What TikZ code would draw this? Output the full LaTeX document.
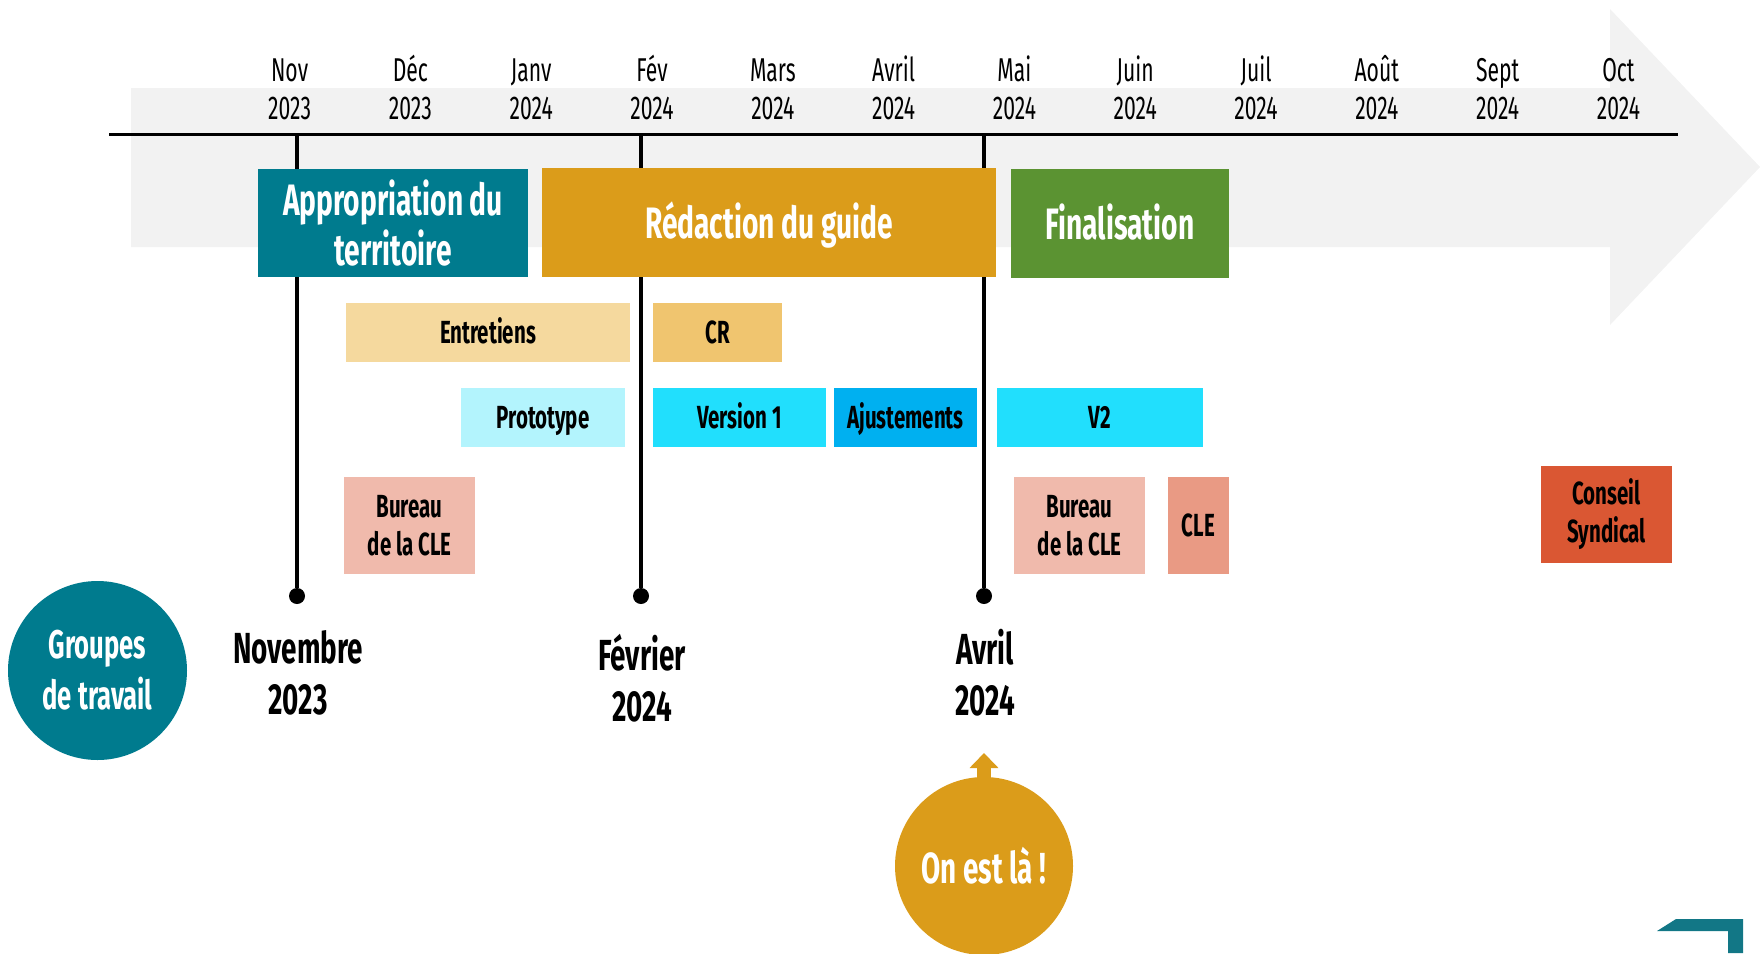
\documentclass[tikz,border=0pt]{standalone}
\usepackage{fontspec}
\setmainfont{Fira Sans}[FakeStretch=0.64]
\usetikzlibrary{arrows.meta}
\definecolor{cFond}{HTML}{F2F2F2}
\definecolor{cTeal}{HTML}{007B8E}
\definecolor{cGold}{HTML}{DB9C1A}
\definecolor{cVert}{HTML}{5B9332}
\definecolor{cEntre}{HTML}{F5D99E}
\definecolor{cCR}{HTML}{F0C56F}
\definecolor{cProto}{HTML}{B3F4FD}
\definecolor{cCyan}{HTML}{21DFFD}
\definecolor{cBleu}{HTML}{00B0F0}
\definecolor{cBureau}{HTML}{F0BAAC}
\definecolor{cCLE}{HTML}{E99A84}
\definecolor{cConseil}{HTML}{DA5733}
\definecolor{cCoin}{HTML}{127786}

\begin{document}
\begin{tikzpicture}[x=1pt, y=-1pt,
  phase/.style={rectangle, inner sep=0pt, align=center, text=white,
    font=\fontsize{44}{50}\selectfont\bfseries},
  task/.style={rectangle, inner sep=0pt, align=center, text=black,
    font=\fontsize{32}{38}\selectfont\bfseries},
  uneligne/.style={text height=26pt, text depth=4pt},
  month/.style={align=center, inner sep=0pt, font=\fontsize{33}{38}\selectfont},
  jalon/.style={align=center, inner sep=0pt, font=\fontsize{43.5}{51}\selectfont\bfseries},
  bulle/.style={circle, inner sep=0pt, align=center, text=white,
    font=\fontsize{40}{51}\selectfont\bfseries}]
\useasboundingbox (0,0) rectangle (1760,953);

% grande fleche de fond
\fill[cFond] (131,88) -- (1610,88) -- (1610,9) -- (1760,167)
  -- (1610,325) -- (1610,247) -- (131,247) -- cycle;

% axe des mois
\coordinate (axeg) at (109,134);
\coordinate (axed) at (1678,134);
\draw[line width=3pt] (axeg) -- (axed);
\foreach \m/\a [count=\i from 0] in {Nov/2023, Déc/2023, Janv/2024, Fév/2024,
    Mars/2024, Avril/2024, Mai/2024, Juin/2024, Juil/2024, Août/2024,
    Sept/2024, Oct/2024} {
  \node[month] (m\i) at (289.6+120.8*\i, 87) {\vphantom{Dé}\m\\\a};
}

% jalons
\foreach \n/\x/\ly/\lab in {nov/297/673/{Novembre\\2023},
    fev/641/678/{Février\\2024}, avr/984/673/{Avril\\2024}} {
  \coordinate (\n top) at (\x,134);
  \node[circle, fill=black, inner sep=0pt, minimum size=16pt] (\n dot) at (\x,596) {};
  \draw[line width=4pt] (\n top) -- (\n dot);
  \node[jalon] (\n lab) at (\x+1,\ly) {\lab};
}

% phases
\node[phase, fill=cTeal, minimum width=270pt, minimum height=108pt]
  (appro) at (393,223) {Appropriation du\\territoire};
\node[phase, fill=cGold, minimum width=454pt, minimum height=109pt,
  text height=36pt, text depth=5pt]
  (redac) at (769,222.5) {Rédaction du guide};
\node[phase, fill=cVert, minimum width=218pt, minimum height=109pt,
  text height=36pt, text depth=5pt]
  (final) at (1120,223.5) {Finalisation};

% taches
\node[task, uneligne, fill=cEntre, minimum width=284pt, minimum height=59pt]
  (entre) at (488,332.5) {Entretiens};
\node[task, uneligne, fill=cCR, minimum width=129pt, minimum height=59pt]
  (cr) at (717.5,332.5) {CR};
\node[task, uneligne, fill=cProto, minimum width=164pt, minimum height=59pt]
  (proto) at (543,417.5) {Prototype};
\node[task, uneligne, fill=cCyan, minimum width=173pt, minimum height=59pt]
  (vun) at (739.5,417.5) {Version 1};
\node[task, uneligne, fill=cBleu, minimum width=143pt, minimum height=59pt]
  (ajust) at (905.5,417.5) {Ajustements};
\node[task, uneligne, fill=cCyan, minimum width=206pt, minimum height=59pt]
  (vdeux) at (1100,417.5) {V2};
\node[task, fill=cBureau, minimum width=131pt, minimum height=97pt]
  (bureauA) at (409.5,525.5) {Bureau\\de la CLE};
\node[task, fill=cBureau, minimum width=131pt, minimum height=97pt]
  (bureauB) at (1079.5,525.5) {Bureau\\de la CLE};
\node[task, uneligne, fill=cCLE, minimum width=61pt, minimum height=97pt]
  (cle) at (1198.5,525.5) {CLE};
\node[task, fill=cConseil, minimum width=131pt, minimum height=97pt]
  (conseil) at (1606.5,514.5) {Conseil\\Syndical};

% bulles
\node[bulle, fill=cTeal, minimum size=179pt] (groupes) at (97.5,670.5) {Groupes\\de travail};
\node[bulle, fill=cGold, minimum size=178pt, font=\fontsize{43.5}{51}\selectfont\bfseries]
  (onest) at (984,866) {On est là !};
\coordinate (ici) at (984,753);
\draw[cGold, line width=14pt, -{Triangle[width=28pt, length=15pt]}]
  ([yshift=-4pt]onest.north) -- (ici);

% coin
\fill[cCoin] (1676,919) -- (1743,919) -- (1743,953) -- (1728,953)
  -- (1728,931) -- (1657,931) -- cycle;
\end{tikzpicture}
\end{document}
